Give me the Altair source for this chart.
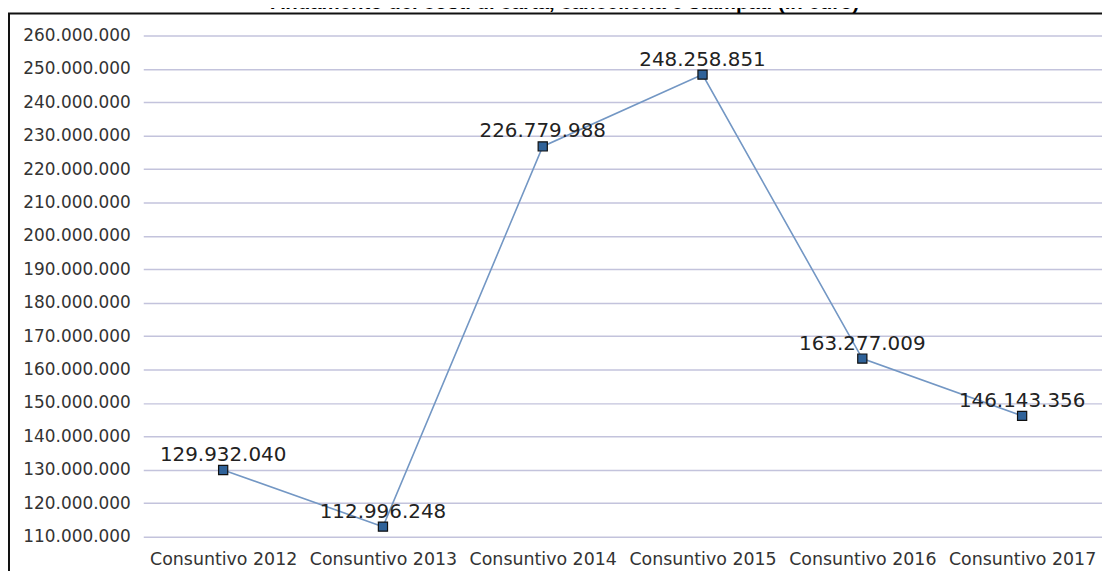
import altair as alt
import pandas as pd

# ---- data ----
categories = ["Consuntivo 2012", "Consuntivo 2013", "Consuntivo 2014",
              "Consuntivo 2015", "Consuntivo 2016", "Consuntivo 2017"]
values = [129932040, 112996248, 226779988, 248258851, 163277009, 146143356]
y_ticks = [110000000, 120000000, 130000000, 140000000, 150000000, 160000000,
           170000000, 180000000, 190000000, 200000000, 210000000, 220000000,
           230000000, 240000000, 250000000, 260000000]
title_text = "Andamento dei costi di carta, cancelleria e stampati  (in euro)"

df = pd.DataFrame({
    "categoria": categories,
    "valore": values,
    "etichetta": [f"{v:,}".replace(",", ".") for v in values],
})

W, H = 964, 504
FONT = "DejaVu Sans"

x_enc = alt.X("categoria:N", sort=categories,
              scale=alt.Scale(padding=0.5),
              axis=alt.Axis(title=None, labelAngle=0, domain=False, ticks=False,
                            grid=False, labelPadding=14, labelFontSize=17.5,
                            labelFont=FONT, labelColor="#333333",
                            labelOverlap=False, labelLimit=300))
y_scale = alt.Scale(domain=[110000000, 260000000], nice=False, zero=False)
y_enc = alt.Y("valore:Q", scale=y_scale,
              axis=alt.Axis(title=None, values=y_ticks, tickCount=16,
                            domain=False, ticks=False,
                            grid=True, gridColor="#c3c3dc", gridWidth=1.5,
                            labelPadding=13, labelFontSize=17, labelFont=FONT,
                            labelColor="#333333", labelOverlap=False,
                            labelFlush=False, labelBound=False,
                            labelExpr="replace(replace(format(datum.value, ','), ',', '.'), ',', '.')"))

base = alt.Chart(df).encode(x=x_enc, y=y_enc)

line = base.mark_line(color="#7397c4", strokeWidth=1.6)

points = base.mark_point(shape="square", filled=True, size=85, fill="#2f6299",
                         stroke="#111111", strokeWidth=1.2, opacity=1)

labels = base.mark_text(font=FONT, fontSize=20, color="#222222", align="center",
                        baseline="alphabetic", dy=-9).encode(text="etichetta:N")

frame_left = alt.Chart(pd.DataFrame({"k": [0]})).mark_rule(
    color="#111111", strokeWidth=2).encode(
    x=alt.value(-135), y=alt.value(-22), y2=alt.value(600))
frame_top = alt.Chart(pd.DataFrame({"k": [0]})).mark_rule(
    color="#111111", strokeWidth=2).encode(
    x=alt.value(-136), x2=alt.value(W + 10), y=alt.value(-22))

title = alt.Chart(pd.DataFrame({"t": [title_text]})).mark_text(
    font="Liberation Sans", fontWeight="bold", fontSize=20.5, color="#000000",
    align="center", baseline="alphabetic").encode(
    x=alt.value(424), y=alt.value(-27), text="t:N")

chart = alt.layer(line, points, labels, frame_left, frame_top, title).properties(
    width=W, height=H,
    autosize=alt.AutoSizeParams(type="none"),
    padding={"left": 136, "top": 26, "right": 0, "bottom": 33},
    background="white",
).configure_view(stroke=None)

chart.save("out.html", embed_options={"renderer": "svg", "actions": False})
